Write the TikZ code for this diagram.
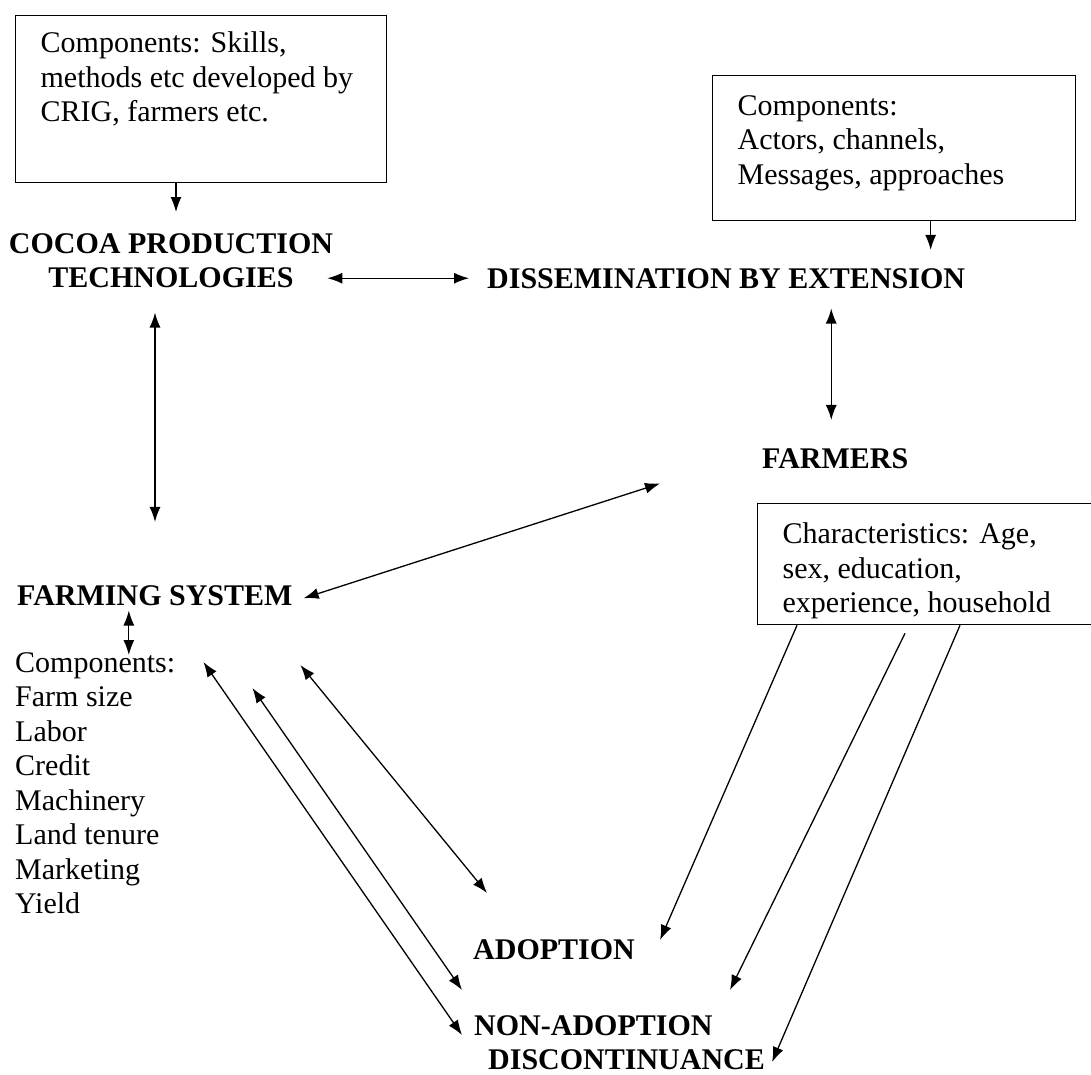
\documentclass[tikz,border=0pt]{standalone}
\usepackage{fontspec}
\setmainfont{Liberation Serif}
\usetikzlibrary{arrows.meta,calc}
\begin{document}
\begin{tikzpicture}[x=1pt,y=-1pt,
  every node/.style={inner sep=0pt, font=\fontsize{30}{34.5}\selectfont},
  head/.style={font=\fontsize{30}{34.5}\selectfont\bfseries},
  boxnode/.style={draw, line width=1.3pt, inner xsep=25pt, inner ysep=0pt, anchor=north west},
  arr/.style={line width=1.3pt, -{Latex[length=15pt,width=11pt]}},
  dbl/.style={line width=1.3pt, {Latex[length=15pt,width=11pt]}-{Latex[length=15pt,width=11pt]}}]
\useasboundingbox (0,0) rectangle (1091,1074);

\node[boxnode] (b1) at (15,15) {\parbox[c][167pt][t]{321pt}{\raggedright\vspace*{16.5pt}Components: Skills,\\methods etc developed by\\CRIG, farmers etc.}};
\node[boxnode] (b2) at (712,75) {\parbox[c][145pt][t]{313pt}{\raggedright\vspace*{19.5pt}Components:\\Actors, channels,\\Messages, approaches}};
\node[boxnode] (b3) at (757,503) {\parbox[c][121pt][t]{293pt}{\raggedright\vspace*{19.5pt}Characteristics: Age,\\sex, education,\\experience, household}};

\node[head, align=center, anchor=north] (cocoa) at (171,233) {COCOA PRODUCTION\\TECHNOLOGIES};
\node[head, anchor=base west] (diss) at (487,288) {DISSEMINATION BY EXTENSION};
\node[head, anchor=base west] (farmers) at (762,468) {FARMERS};
\node[head, anchor=base west] (farming) at (17,605) {FARMING SYSTEM};
\node[align=left, anchor=north west] (comps) at (15,652) {Components:\\Farm size\\Labor\\Credit\\Machinery\\Land tenure\\Marketing\\Yield};
\node[head, anchor=base west] (adopt) at (473,959) {ADOPTION};
\node[head, align=left, anchor=north west] (nonadopt) at (474,1015) {NON-ADOPTION\\\hspace*{14pt}DISCONTINUANCE};

\draw[arr, shorten >=21pt] ([xshift=5pt]b1.south -| cocoa.north) -- ([xshift=5pt]cocoa.north);
\draw[dbl] ([xshift=-6pt]cocoa.east |- diss.west) -- ([xshift=-18pt]diss.west);
\draw[arr, shorten >=18pt] ([xshift=36.5pt]b2.south) -- ([xshift=36.5pt]b2.south |- diss.north);
\draw[dbl, shorten <=20pt, shorten >=28pt] ([xshift=-4pt]farmers.north |- diss.south) -- ([xshift=-4pt]farmers.north);
\draw[dbl, shorten <=24.5pt, shorten >=63pt] ([xshift=-16pt]cocoa.south) -- ([xshift=-16pt]cocoa.south |- farming.north);
\draw[dbl] ($(farming.east)+(11,3)$) -- ($(farmers.south west)+(-102,15)$);
\draw[dbl, shorten <=5pt, shorten >=-3pt] ([xshift=-26pt]farming.south) -- ([xshift=-26pt]farming.south |- comps.north);

\draw[dbl] ($(comps.north east)+(28,10)$) -- ($(nonadopt.north west)+(-12,20)$);
\draw[dbl] ($(comps.north east)+(77,36)$) -- ($(nonadopt.north west)+(-12,-25)$);
\draw[dbl] ($(comps.north east)+(125,13)$) -- ($(adopt.north west)+(14,-46)$);

\draw[arr] ($(b3.south west)+(40,0)$) -- ($(adopt.north east)+(25,1)$);
\draw[arr] ($(b3.south west)+(148,8)$) -- ($(nonadopt.north west)+(256,-25)$);
\draw[arr] ($(b3.south west)+(203,0)$) -- ($(nonadopt.south east)+(7,-8)$);
\end{tikzpicture}
\end{document}
